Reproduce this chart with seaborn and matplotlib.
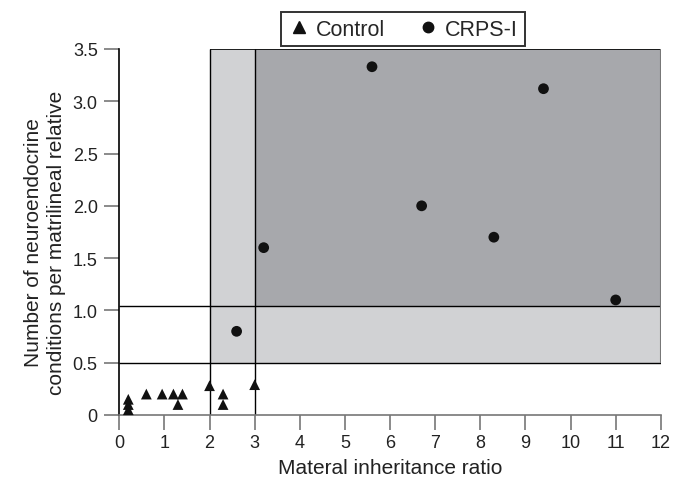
import matplotlib
matplotlib.use("Agg")
import matplotlib.pyplot as plt
from matplotlib.lines import Line2D
import seaborn as sns
import pandas as pd

# data
control_x = [0.2, 0.2, 0.2, 0.6, 0.95, 1.2, 1.4, 1.3, 2.0, 2.3, 2.3, 3.0]
control_y = [0.15, 0.10, 0.05, 0.20, 0.20, 0.20, 0.20, 0.10, 0.28, 0.20, 0.10, 0.29]
crps_x = [2.6, 3.2, 5.6, 6.7, 8.3, 9.4, 11.0]
crps_y = [0.80, 1.60, 3.33, 2.00, 1.70, 3.12, 1.10]
groups = ["Control", "CRPS-I"]
x_ticks = list(range(0, 13))
y_ticks = [0, 0.5, 1.0, 1.5, 2.0, 2.5, 3.0, 3.5]
y_tick_labels = ["0", "0.5", "1.0", "1.5", "2.0", "2.5", "3.0", "3.5"]

# threshold regions
outer_x, outer_y = 2, 0.5
inner_x, inner_y = 3, 1.04
x_max, y_max = 12, 3.5

df = pd.DataFrame({
    "ratio": control_x + crps_x,
    "conditions": control_y + crps_y,
    "group": [groups[0]] * len(control_x) + [groups[1]] * len(crps_x),
})

sns.set_style("ticks")
plt.rcParams["font.family"] = ["Liberation Sans", "DejaVu Sans"]

fig = plt.figure(figsize=(6.75, 4.85), dpi=100)
ax = fig.add_axes([0.1767, 0.1423, 0.8023, 0.7547])

light = "#d1d2d4"
dark = "#a7a8ac"
ax.fill_between([outer_x, x_max], outer_y, y_max, color=light, lw=0, zorder=0)
ax.fill_between([inner_x, x_max], inner_y, y_max, color=dark, lw=0, zorder=0)

ax.hlines([outer_y, inner_y], 0, x_max, color="black", lw=1.0, zorder=1)
ax.vlines([outer_x, inner_x], 0, y_max, color="black", lw=1.0, zorder=1)
ax.hlines(y_max, outer_x, x_max, color="black", lw=1.2, zorder=1)
ax.vlines(x_max, outer_y, y_max, color="#777777", lw=1.5, zorder=1)

sns.scatterplot(data=df, x="ratio", y="conditions", style="group",
                markers={"Control": "^", "CRPS-I": "o"}, color="#111111",
                s=60, edgecolor="none", legend=False, ax=ax, zorder=3,
                clip_on=False)

ax.set_xlim(0, x_max)
ax.set_ylim(0, y_max)
ax.set_xticks(x_ticks)
ax.set_xticklabels([str(t) for t in x_ticks])
ax.set_yticks(y_ticks)
ax.set_yticklabels(y_tick_labels)

sns.despine(ax=ax)
ax.spines["left"].set_color("black")
ax.spines["left"].set_linewidth(1.2)
ax.spines["bottom"].set_color("#777777")
ax.spines["bottom"].set_linewidth(1.2)
ax.tick_params(axis="both", direction="out", length=10.5, width=1.2,
               color="#777777", labelsize=13, labelcolor="#222222")
ax.tick_params(axis="y", pad=5)
ax.tick_params(axis="x", pad=3)

ax.set_xlabel("Materal inheritance ratio", fontsize=15, color="#222222", labelpad=5)
ax.set_ylabel("Number of neuroendocrine\nconditions per matrilineal relative",
              fontsize=15, color="#222222", linespacing=1.25)
ax.yaxis.set_label_coords(-0.099, 0.473)

handles = [
    Line2D([], [], marker="^", ls="none", color="#111111", markersize=8.5),
    Line2D([], [], marker="o", ls="none", color="#111111", markersize=7.5),
]
leg = fig.legend(handles, groups, loc="center", bbox_to_anchor=(0.597, 0.938),
                 ncol=2, frameon=True, fancybox=False, fontsize=15.5,
                 handletextpad=0.3, columnspacing=1.5, handlelength=1.0,
                 borderpad=0.3)
leg.get_frame().set_edgecolor("black")
leg.get_frame().set_linewidth(1.4)

fig.savefig("out.png", dpi=100)
